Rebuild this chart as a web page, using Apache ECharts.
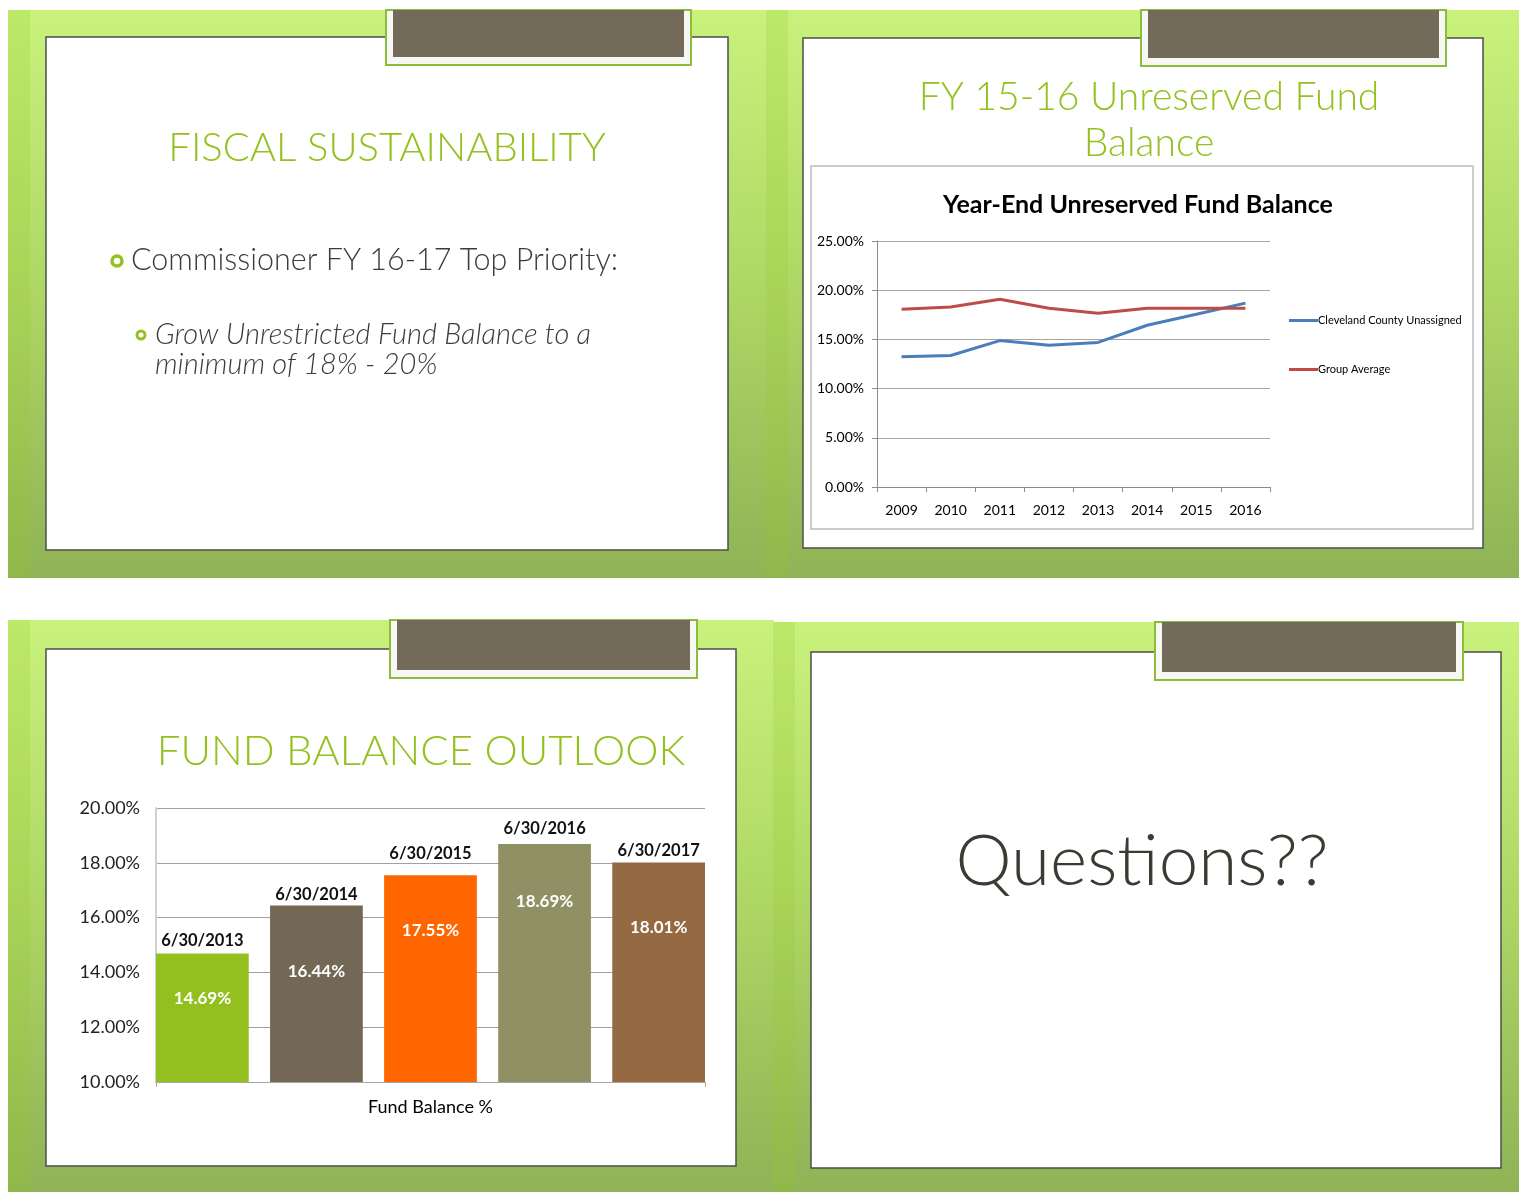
<!DOCTYPE html>
<html>
<head>
<meta charset="utf-8">
<title>Fund Balance slides</title>
<script src="https://cdn.jsdelivr.net/npm/echarts@6/dist/echarts.min.js"></script>
<style>
  html, body { margin: 0; padding: 0; background: #ffffff; }
  #main { width: 1519px; height: 1192px; }
</style>
</head>
<body>
<div id="main"></div>
<script>
// line chart data (slide 2)
var years = ['2009', '2010', '2011', '2012', '2013', '2014', '2015', '2016'];
var clevelandCounty = [13.23, 13.36, 14.88, 14.41, 14.69, 16.44, 17.55, 18.69];
var groupAverage = [18.06, 18.30, 19.08, 18.17, 17.66, 18.17, 18.17, 18.17];
var lineSeriesNames = ['Cleveland County Unassigned', 'Group Average'];

// bar chart data (slide 3)
var outlookCategory = ['Fund Balance %'];
var outlookDates = ['6/30/2013', '6/30/2014', '6/30/2015', '6/30/2016', '6/30/2017'];
var outlookValues = [14.69, 16.44, 17.55, 18.69, 18.01];

// styles
var outlookColors = ['#93c01f', '#736856', '#ff6600', '#8f9063', '#956a43'];
var nameRaise = [13, 11, 21, 15, 12];           // date label above each bar
var valueLineHeight = [96, 134, 132, 126, 134]; // white value label inside each bar
var green = '#94c11f';
var bodyFont = 'Lato, "Open Sans", sans-serif';
var chartFont = 'Lato, "Liberation Sans", sans-serif';

var myChart = echarts.init(document.getElementById('main'));

// slide frame: green backdrop, white panel, brown tab
function slide(x0, y0, x1, y1, p, tab) {
    var bg = new echarts.graphic.LinearGradient(0, 0, 0, 1, [
        { offset: 0, color: '#c8f27c' },
        { offset: 0.45, color: '#b0da66' },
        { offset: 1, color: '#8fb356' }
    ]);
    return [
        { type: 'rect', z: 0, shape: { x: x0, y: y0, width: x1 - x0, height: y1 - y0 }, style: { fill: bg } },
        { type: 'rect', z: 0, shape: { x: x0, y: y0, width: 22, height: y1 - y0 }, style: { fill: 'rgba(150,200,40,0.22)' } },
        { type: 'rect', z: 1, shape: { x: p[0], y: p[1], width: p[2] - p[0], height: p[3] - p[1] },
          style: { fill: '#ffffff', stroke: '#4d4d4d', lineWidth: 1.5 } },
        { type: 'rect', z: 1, shape: { x: tab[0], y: tab[1], width: tab[2] - tab[0], height: tab[3] - tab[1] },
          style: { fill: '#f7f7f4', stroke: '#8cbd3a', lineWidth: 2 } },
        { type: 'rect', z: 1, shape: { x: tab[0] + 7, y: tab[1], width: tab[2] - tab[0] - 14, height: tab[3] - tab[1] - 8 },
          style: { fill: '#736a5a' } }
    ];
}

function text(str, x, y, font, fill, align) {
    return {
        type: 'text', z: 5,
        style: { text: str, x: x, y: y, font: font, fill: fill, textAlign: align || 'center', textVerticalAlign: 'middle' }
    };
}

function ring(cx, cy, r, w) {
    return { type: 'circle', z: 5, shape: { cx: cx, cy: cy, r: r }, style: { fill: '#ffffff', stroke: green, lineWidth: w } };
}

var elements = [].concat(
    slide(8, 10, 767, 578, [46, 37, 728, 550], [386, 10, 691, 65]),
    slide(766, 10, 1519, 578, [803, 38, 1483, 548], [1141, 10, 1446, 66]),
    slide(8, 620, 774, 1192, [46, 649, 736, 1166], [390, 620, 697, 678]),
    slide(773, 622, 1519, 1192, [811, 652, 1501, 1168], [1155, 622, 1463, 680]),
    [
        // slide 1
        text('FISCAL SUSTAINABILITY', 387, 148, '300 40px ' + bodyFont, green),
        ring(117, 261, 5, 3.5),
        text('Commissioner FY 16-17 Top Priority:', 131, 260, '300 30.5px ' + bodyFont, '#3c3c3c', 'left'),
        ring(141, 335, 4, 3),
        text('Grow Unrestricted Fund Balance to a', 155, 335, 'italic 300 29px ' + bodyFont, '#3c3c3c', 'left'),
        text('minimum of 18% - 20%', 155, 365, 'italic 300 29px ' + bodyFont, '#3c3c3c', 'left'),
        // slide 2
        text('FY 15-16 Unreserved Fund', 1149, 97, '300 39px ' + bodyFont, green),
        text('Balance', 1149, 143, '300 39px ' + bodyFont, green),
        { type: 'rect', z: 2, shape: { x: 811, y: 166, width: 662, height: 363 },
          style: { fill: '#ffffff', stroke: '#bdbdbd', lineWidth: 1.5 } },
        // slide 3
        text('FUND BALANCE OUTLOOK', 421, 751, '300 42px ' + bodyFont, green),
        // slide 4
        text('Questions??', 1142, 862, '300 71px ' + bodyFont, '#3b3b33')
    ]
);

var barSeries = outlookDates.map(function (d, i) {
    return {
        name: d,
        type: 'bar',
        xAxisIndex: 1,
        yAxisIndex: 1,
        z: 6,
        barGap: '23%',
        barCategoryGap: '0%',
        data: [outlookValues[i]],
        itemStyle: { color: outlookColors[i] },
        label: {
            show: true,
            position: ['50%', -(nameRaise[i] + 10)],
            align: 'center',
            verticalAlign: 'top',
            formatter: '{n|' + d + '}\n{v|' + outlookValues[i].toFixed(2) + '%}',
            rich: {
                n: { fontFamily: bodyFont, fontWeight: 'bold', fontSize: 16.5, color: '#111111', lineHeight: 20 },
                v: { fontFamily: bodyFont, fontWeight: 'bold', fontSize: 17, color: '#ffffff', lineHeight: valueLineHeight[i] }
            }
        }
    };
});

var option = {
    animation: false,
    graphic: { elements: elements },
    title: {
        text: 'Year-End Unreserved Fund Balance',
        left: 1133,
        top: 187,
        textAlign: 'center',
        z: 10,
        textStyle: { fontFamily: chartFont, fontWeight: 'bold', fontSize: 25, color: '#000000' }
    },
    legend: {
        data: lineSeriesNames,
        orient: 'vertical',
        left: 1284,
        top: 310,
        itemGap: 38,
        itemWidth: 29,
        itemHeight: 3,
        icon: 'rect',
        z: 10,
        textStyle: { fontFamily: chartFont, fontSize: 11, color: '#000000', padding: [0, 0, 0, -5] }
    },
    grid: [
        { left: 877, top: 241, width: 393, height: 246, z: 6 },
        { left: 156, top: 808, width: 549, height: 274, z: 6 }
    ],
    xAxis: [
        {
            gridIndex: 0,
            type: 'category',
            z: 10,
            data: years,
            axisLine: { lineStyle: { color: '#8c8c8c', width: 1 } },
            axisTick: { show: true, length: 5, lineStyle: { color: '#8c8c8c' } },
            axisLabel: { fontFamily: chartFont, fontSize: 14, color: '#000000', margin: 16 }
        },
        {
            gridIndex: 1,
            type: 'category',
            z: 10,
            data: outlookCategory,
            axisLine: { lineStyle: { color: '#a6a6a6', width: 1 } },
            axisTick: { show: true, length: 5, lineStyle: { color: '#a6a6a6' } },
            axisLabel: { fontFamily: bodyFont, fontSize: 18, color: '#000000', margin: 16 }
        }
    ],
    yAxis: [
        {
            gridIndex: 0,
            type: 'value',
            z: 10,
            min: 0,
            max: 25,
            interval: 5,
            axisLine: { show: true, lineStyle: { color: '#8c8c8c', width: 1 } },
            axisTick: { show: true, length: 5, lineStyle: { color: '#8c8c8c' } },
            splitLine: { lineStyle: { color: '#a6a6a6', width: 1 } },
            axisLabel: {
                fontFamily: chartFont, fontSize: 14, color: '#000000', margin: 13,
                formatter: function (v) { return v.toFixed(2) + '%'; }
            }
        },
        {
            gridIndex: 1,
            type: 'value',
            z: 5,
            min: 10,
            max: 20,
            interval: 2,
            axisLine: { show: true, lineStyle: { color: '#d0d0d0', width: 2 } },
            axisTick: { show: false },
            splitLine: { lineStyle: { color: '#a0a0a0', width: 1 } },
            axisLabel: {
                fontFamily: bodyFont, fontSize: 18, color: '#222222', margin: 16,
                formatter: function (v) { return v.toFixed(2) + '%'; }
            }
        }
    ],
    series: [
        {
            name: lineSeriesNames[0],
            type: 'line',
            xAxisIndex: 0,
            yAxisIndex: 0,
            z: 12,
            data: clevelandCounty,
            showSymbol: false,
            color: '#4a7ebb',
            lineStyle: { width: 3, color: '#4a7ebb' }
        },
        {
            name: lineSeriesNames[1],
            type: 'line',
            xAxisIndex: 0,
            yAxisIndex: 0,
            z: 12,
            data: groupAverage,
            showSymbol: false,
            color: '#be4b48',
            lineStyle: { width: 3, color: '#be4b48' }
        }
    ].concat(barSeries)
};

option && myChart.setOption(option);
</script>
</body>
</html>
